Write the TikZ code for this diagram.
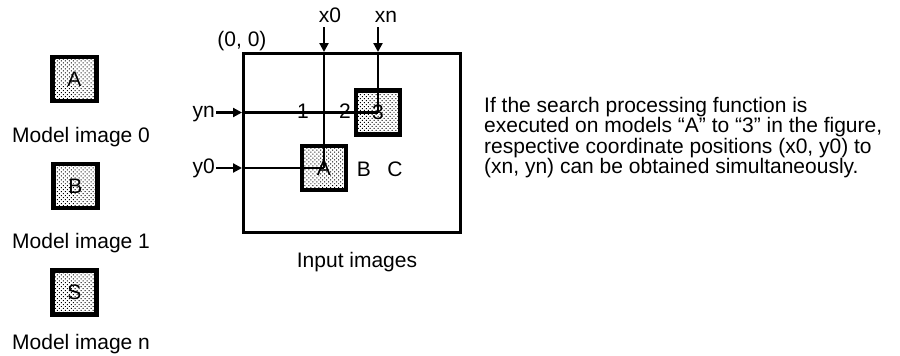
\documentclass[tikz,border=0pt]{standalone}
\usepackage{fontspec}
\setmainfont{Liberation Sans}
\usetikzlibrary{arrows.meta,patterns.meta}
\begin{document}
\begin{tikzpicture}[x=1pt,y=-1pt,
  every node/.style={font=\fontsize{21}{20.5}\selectfont, inner sep=0pt},
  modelbox/.style={draw, line width=4.2pt, minimum size=44pt,
    preaction={fill=white},
    pattern={Dots[angle=45,distance=2.8pt,radius=0.7pt]}, pattern color=black},
  framebox/.style={draw, line width=3.2pt, minimum width=216.8pt, minimum height=178.8pt},
  ln/.style={line width=2.2pt},
  arr/.style={line width=2.2pt, -{Triangle[length=9pt,width=9pt]}}
]
\useasboundingbox (0,0) rectangle (900,356);

% model images
\node[modelbox] (mA) at (74.5,79) {A};
\node[modelbox] (mB) at (75.5,186) {B};
\node[modelbox] (mS) at (74.5,292.5) {S};
\node[anchor=base west] (lA) at (12,142) {Model image 0};
\node[anchor=base west] (lB) at (12,248) {Model image 1};
\node[anchor=base west] (lS) at (12,349) {Model image n};

% input image frame
\node[framebox] (frame) at (352,143) {};
\node[anchor=base] (origin) at (242,46) {(0, 0)};
\node[anchor=base] (inlbl) at (357,267) {Input images};

% found models
\node[modelbox] (sqA) at (324,168) {A};
\node[modelbox] (sq3) at (378,112.5) {3};
\node (n1) at (303,111.5) {1};
\node (n2) at (345,111.5) {2};
\node (nB) at (364,169.5) {B};
\node (nC) at (395,169.5) {C};

% axis labels
\node[anchor=base] (x0) at (330,22) {x0};
\node[anchor=base] (xn) at (386,22) {xn};
\node[anchor=base east] (yn) at (215,117) {yn};
\node[anchor=base east] (y0) at (215,173) {y0};

% connectors
\draw[arr] ([yshift=-5pt]x0.south -| sqA.center) -- (sqA.center |- frame.north);
\draw[ln] (sqA.center |- frame.north) -- (sqA.center);
\draw[arr] ([yshift=-5pt]xn.south -| sq3.center) -- (sq3.center |- frame.north);
\draw[ln] (sq3.center |- frame.north) -- (sq3.center);
\draw[arr] ([xshift=1pt]yn.east |- sq3.center) -- (frame.west |- sq3.center);
\draw[ln] (frame.west |- sq3.center) -- (sq3.center);
\draw[arr] ([xshift=1pt]y0.east |- sqA.center) -- (frame.west |- sqA.center);
\draw[ln] (frame.west |- sqA.center) -- (sqA.center);

% explanation
\node[anchor=base west, align=left] (expl) at (484,173.5)
  {If the search processing function is\\
   executed on models “A” to “3” in the figure,\\
   respective coordinate positions (x0, y0) to\\
   (xn, yn) can be obtained simultaneously.};
\end{tikzpicture}
\end{document}
